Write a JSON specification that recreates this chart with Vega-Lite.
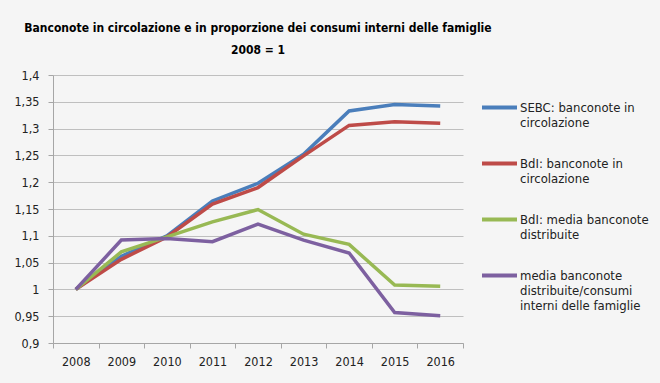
{
  "$schema": "https://vega.github.io/schema/vega-lite/v6.json",
  "autosize": "none",
  "width": 410,
  "height": 268,
  "padding": {"left": 53, "top": 75, "right": 197, "bottom": 40},
  "background": "#f5f5f5",
  "title": {
    "text": ["Banconote in circolazione e in proporzione dei consumi interni delle famiglie", "2008 = 1"],
    "font": "DejaVu Sans Condensed, Roboto, sans-serif",
    "fontSize": 12,
    "fontWeight": "bold",
    "color": "#000000",
    "anchor": "middle",
    "offset": 12,
    "lineHeight": 22
  },
  "config": {
    "view": {"stroke": null},
    "font": "DejaVu Sans Condensed, Roboto, sans-serif"
  },
  "data": {
    "values": [
      {"anno": "2008", "serie": "SEBC: banconote in circolazione", "valore": 1.0},
      {"anno": "2009", "serie": "SEBC: banconote in circolazione", "valore": 1.062},
      {"anno": "2010", "serie": "SEBC: banconote in circolazione", "valore": 1.1},
      {"anno": "2011", "serie": "SEBC: banconote in circolazione", "valore": 1.165},
      {"anno": "2012", "serie": "SEBC: banconote in circolazione", "valore": 1.198},
      {"anno": "2013", "serie": "SEBC: banconote in circolazione", "valore": 1.252},
      {"anno": "2014", "serie": "SEBC: banconote in circolazione", "valore": 1.333},
      {"anno": "2015", "serie": "SEBC: banconote in circolazione", "valore": 1.345},
      {"anno": "2016", "serie": "SEBC: banconote in circolazione", "valore": 1.342},
      {"anno": "2008", "serie": "BdI: banconote in circolazione", "valore": 1.0},
      {"anno": "2009", "serie": "BdI: banconote in circolazione", "valore": 1.056},
      {"anno": "2010", "serie": "BdI: banconote in circolazione", "valore": 1.098},
      {"anno": "2011", "serie": "BdI: banconote in circolazione", "valore": 1.159},
      {"anno": "2012", "serie": "BdI: banconote in circolazione", "valore": 1.19},
      {"anno": "2013", "serie": "BdI: banconote in circolazione", "valore": 1.249},
      {"anno": "2014", "serie": "BdI: banconote in circolazione", "valore": 1.306},
      {"anno": "2015", "serie": "BdI: banconote in circolazione", "valore": 1.313},
      {"anno": "2016", "serie": "BdI: banconote in circolazione", "valore": 1.31},
      {"anno": "2008", "serie": "BdI: media banconote distribuite", "valore": 1.0},
      {"anno": "2009", "serie": "BdI: media banconote distribuite", "valore": 1.07},
      {"anno": "2010", "serie": "BdI: media banconote distribuite", "valore": 1.098},
      {"anno": "2011", "serie": "BdI: media banconote distribuite", "valore": 1.126},
      {"anno": "2012", "serie": "BdI: media banconote distribuite", "valore": 1.149},
      {"anno": "2013", "serie": "BdI: media banconote distribuite", "valore": 1.103},
      {"anno": "2014", "serie": "BdI: media banconote distribuite", "valore": 1.084},
      {"anno": "2015", "serie": "BdI: media banconote distribuite", "valore": 1.008},
      {"anno": "2016", "serie": "BdI: media banconote distribuite", "valore": 1.006},
      {"anno": "2008", "serie": "media banconote distribuite/consumi interni delle famiglie", "valore": 1.0},
      {"anno": "2009", "serie": "media banconote distribuite/consumi interni delle famiglie", "valore": 1.092},
      {"anno": "2010", "serie": "media banconote distribuite/consumi interni delle famiglie", "valore": 1.095},
      {"anno": "2011", "serie": "media banconote distribuite/consumi interni delle famiglie", "valore": 1.089},
      {"anno": "2012", "serie": "media banconote distribuite/consumi interni delle famiglie", "valore": 1.122},
      {"anno": "2013", "serie": "media banconote distribuite/consumi interni delle famiglie", "valore": 1.092},
      {"anno": "2014", "serie": "media banconote distribuite/consumi interni delle famiglie", "valore": 1.068},
      {"anno": "2015", "serie": "media banconote distribuite/consumi interni delle famiglie", "valore": 0.957},
      {"anno": "2016", "serie": "media banconote distribuite/consumi interni delle famiglie", "valore": 0.951}
    ]
  },
  "mark": {"type": "line", "strokeWidth": 3.5, "strokeCap": "butt", "strokeJoin": "miter"},
  "encoding": {
    "x": {
      "field": "anno",
      "type": "ordinal",
      "scale": {"type": "band", "paddingInner": 0, "paddingOuter": 0},
      "axis": {
        "title": null,
        "labelAngle": 0,
        "labelFontSize": 12.5,
        "labelColor": "#222222",
        "labelPadding": 7,
        "tickBand": "extent",
        "tickColor": "#a6a6a6",
        "tickSize": 5,
        "domainColor": "#a6a6a6",
        "grid": false
      }
    },
    "y": {
      "field": "valore",
      "type": "quantitative",
      "scale": {"domain": [0.9, 1.4], "nice": false, "zero": false},
      "axis": {
        "title": null,
        "values": [0.9, 0.95, 1, 1.05, 1.1, 1.15, 1.2, 1.25, 1.3, 1.35, 1.4],
        "labelExpr": "replace(format(datum.value, '.2~f'), '.', ',')",
        "labelFontSize": 12.5,
        "labelColor": "#222222",
        "labelPadding": 9,
        "tickColor": "#a6a6a6",
        "tickSize": 5,
        "domainColor": "#a6a6a6",
        "gridColor": "#bfbfbf",
        "gridWidth": 1
      }
    },
    "color": {
      "field": "serie",
      "type": "nominal",
      "scale": {
        "domain": ["SEBC: banconote in circolazione", "BdI: banconote in circolazione", "BdI: media banconote distribuite", "media banconote distribuite/consumi interni delle famiglie"],
        "range": ["#4a7ebb", "#be4b48", "#98b954", "#7d60a0"]
      },
      "legend": {
        "title": null,
        "orient": "none",
        "legendX": 427,
        "legendY": 13,
        "symbolType": "stroke",
        "symbolSize": 1225,
        "symbolStrokeWidth": 4,
        "labelFontSize": 13,
        "labelColor": "#222222",
        "labelOffset": 1,
        "labelLimit": 200,
        "labelLineHeight": 18,
        "rowPadding": 14,
        "labelExpr": "datum.label == 'SEBC: banconote in circolazione' ? ['SEBC: banconote in', 'circolazione'] : datum.label == 'BdI: banconote in circolazione' ? ['BdI: banconote in', 'circolazione'] : datum.label == 'BdI: media banconote distribuite' ? ['BdI: media banconote', 'distribuite'] : ['media banconote', 'distribuite/consumi', 'interni delle famiglie']"
      }
    }
  }
}
